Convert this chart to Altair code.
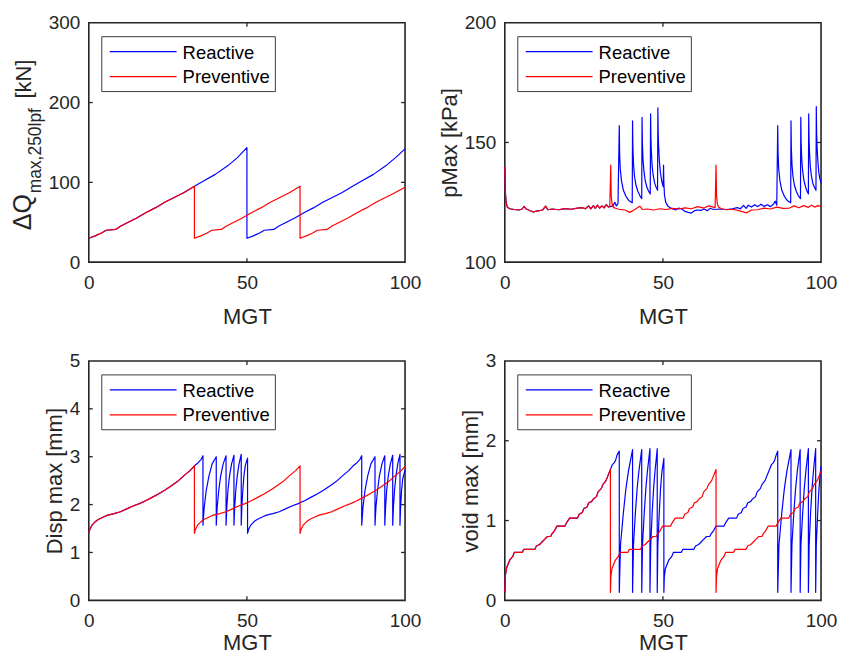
import altair as alt
import pandas as pd

SERIES = ["Reactive", "Preventive"]
COLORS = ["#0000ff", "#ff0000"]
MGT_TICKS = [0, 50, 100]

# ---------------- Panel 1: ΔQ max,250lpf [kN] ----------------
DQ_REACTIVE = [(0,30),(2,33),(4,36.5),(5.5,40),(8.5,41),(10,45),(12,49),(15,55),(18,62),(21,68),(24,75),(27,81),(30,87),(33.4,95),
               (36,101),(40,110),(44,121),(47,131),(50,143.5),
               (50,30),(52,33),(54,36.5),(55.5,40),(58.5,41),(60,45),(62,49),(65,55),(68,62),(71,68),(74,75),(77,81),(80,87),(83.4,95),
               (86,101),(90,110),(94,121),(97,131),(100,142)]
DQ_PREVENTIVE = [(0,30),(2,33),(4,36.5),(5.5,40),(8.5,41),(10,45),(12,49),(15,55),(18,62),(21,68),(24,75),(27,81),(30,87),(33.4,95),
                 (33.4,30),(35.4,33),(37.4,36.5),(38.9,40),(41.9,41),(43.4,45),(45.4,49),(48.4,55),(51.4,62),(54.4,68),(57.4,75),(60.4,81),(63.4,87),(66.8,95),
                 (66.8,30),(68.8,33),(70.8,36.5),(72.3,40),(75.3,41),(76.8,45),(78.8,49),(81.8,55),(84.8,62),(87.8,68),(90.8,75),(93.8,81),(96.8,87),(100,94)]

# ---------------- Panel 2: pMax [kPa] ----------------
PMAX_REACTIVE = [(0,140),(0.15,130),(0.4,125),(0.8,123),(1.5,122.3),(3,122),(4.5,121.8),(5.5,122.2),(6.1,123.3),(6.8,122.2),(8,121.5),(9,121),
                 (10.5,121.4),(12,121.8),(12.9,123.4),(13.6,121.9),(15,122.2),(17,121.9),(19,122.4),(21,122.1),(23,122.6),(24.5,122.8),(25.5,122.3),
                 (26.5,123.5),(27.2,122.3),(28,123.6),(28.6,122.5),(29.3,123.8),(30,122.6),(30.7,123.5),(31.4,122.7),(32.1,124),(32.8,123),(33.2,123.3),
                 (33.5,123.2),(34.2,123.5),(34.8,125),(35.3,123.5),(35.8,124.5),
                 (36.2,157),(36.3,146),(36.5,139),(36.9,134),(37.5,130),(38.3,127.5),(39.2,125.8),(40.3,124.8),
                 (40.4,159),(40.5,148),(40.7,141),(41.0,136),(41.5,132),(42.1,129.5),(42.7,127.8),(43.3,126.5),
                 (43.4,160.5),(43.5,150),(43.7,143),(44.0,138),(44.4,134),(44.9,131.5),(45.4,129.8),(46.0,128.5),
                 (46.1,162),(46.2,152),(46.35,146),(46.6,140),(46.95,136),(47.4,133),(47.85,131.3),(48.3,130),
                 (48.4,164.5),(48.5,154),(48.65,148),(48.9,142),(49.2,137.5),(49.6,134),(50.1,131.5),
                 (50.2,140.5),(50.3,133),(50.5,128),(50.9,125),(51.5,123.5),(52.2,122.8),(53,122.3),(54,121.8),(55,122.6),(56,122.2),
                 (57,121.2),(58,120.8),(59,120.5),(60,121.5),(61,121.8),(62,121.6),(63,122.2),(64,121.5),(65,122.5),(66,122),(68,122.2),
                 (70,122),(72,122.3),(73.5,122.8),(74.5,122.3),(75.5,123.7),(76.3,122.5),(77,123.8),(78,123),(79,124),(80,123.2),(81,124.2),
                 (82,123.3),(83,124),(84,123.2),(85,124.3),(85.5,125.5),(86,123.8),
                 (86.3,157),(86.4,146),(86.6,139),(87.0,134),(87.6,130),(88.4,127.5),(89.3,125.8),(90.4,124.8),
                 (90.5,159),(90.6,148),(90.8,141),(91.1,136),(91.6,132),(92.2,129.5),(92.8,127.8),(93.5,126.5),
                 (93.6,160.5),(93.7,150),(93.9,143),(94.2,138),(94.6,134),(95.1,131.5),(95.5,129.8),(96.0,128.5),
                 (96.1,162),(96.2,152),(96.35,146),(96.6,140),(96.95,136),(97.4,133),(97.9,131.3),(98.4,130),
                 (98.5,165),(98.6,154),(98.75,148),(99.0,142),(99.3,137.5),(99.6,135),(100,133)]
PMAX_PREVENTIVE = [(0,140),(0.15,130),(0.4,125),(0.8,123),(1.5,122.3),(3,122),(4.5,121.8),(5.5,122.2),(6.1,123.3),(6.8,122.2),(8,121.5),(9,121),
                   (10.5,121.4),(12,121.8),(12.9,123.4),(13.6,121.9),(15,122.2),(17,121.9),(19,122.4),(21,122.1),(23,122.6),(24.5,122.8),(25.5,122.3),
                   (26.5,123.5),(27.2,122.3),(28,123.6),(28.6,122.5),(29.3,123.8),(30,122.6),(30.7,123.5),(31.4,122.7),(32.1,124),(32.8,123),(33.2,123.3),
                   (33.5,140.5),(33.65,128),(33.9,124.5),(34.3,123),(35,122.5),(36,122.1),(38,121.8),(39.5,120.8),(41,121.9),(42.7,123.4),
                   (43.5,122),(45,122.2),(47,121.8),(49,122.3),(51,122),(53,122.5),(55,122.2),(57,122.7),(59,122.3),(61,123.2),(63,122.6),
                   (64.5,123.5),(66.5,122.8),(66.8,140.5),(66.95,128),(67.2,124.5),(67.6,123),(68.5,122.3),(70,121.9),(72,122.1),(74,121.5),
                   (76.5,120.6),(78,121.8),(80,121.9),(82,122.6),(84,122.2),(86,123),(88,122.5),(90,122.6),(91.5,123.5),(93,122.7),(94.5,123.6),
                   (96,122.9),(97,123.8),(98,123),(99,123.6),(100,123.3)]

# ---------------- Panel 3: Disp max [mm] ----------------
DISP_REACTIVE = [(0,1.4),(0.3,1.48),(1,1.57),(2,1.64),(3,1.69),(4,1.72),(5,1.75),(6,1.78),(8,1.81),(10,1.85),(12,1.91),(14,1.97),(16,2.02),
                 (18,2.08),(20,2.15),(22,2.22),(24,2.3),(26,2.39),(28,2.48),(30,2.6),(32,2.71),(33.4,2.81),(34.5,2.87),(35.5,2.94),(36.1,3.02),
                 (36.1,1.57),(36.5,1.95),(37.15,2.3),(38.0,2.6),(39.0,2.85),(40.3,3.0),
                 (40.3,1.57),(40.6,1.95),(41.1,2.3),(41.7,2.6),(42.5,2.85),(43.4,3.02),
                 (43.4,1.57),(43.65,1.95),(44.0,2.3),(44.5,2.6),(45.15,2.85),(45.9,3.03),
                 (45.9,1.57),(46.13,1.95),(46.48,2.3),(46.94,2.6),(47.5,2.85),(48.2,3.05),
                 (48.2,1.57),(48.4,1.95),(48.7,2.3),(49.05,2.6),(49.5,2.82),(50.2,2.97),
                 (50.2,1.4),(50.5,1.48),(51.2,1.57),(52.2,1.64),(53.2,1.69),(54.2,1.72),(55.2,1.75),(56.2,1.78),(58.2,1.81),(60.2,1.85),
                 (62.2,1.91),(64.2,1.97),(66.2,2.02),(68.2,2.08),(70.2,2.15),(72.2,2.22),(74.2,2.3),(76.2,2.39),(78.2,2.48),(80.2,2.6),
                 (82.2,2.71),(83.6,2.81),(84.7,2.87),(85.7,2.94),(86.3,3.02),
                 (86.3,1.57),(86.7,1.95),(87.35,2.3),(88.2,2.6),(89.2,2.85),(90.5,3.0),
                 (90.5,1.57),(90.8,1.95),(91.3,2.3),(91.9,2.6),(92.7,2.85),(93.6,3.02),
                 (93.6,1.57),(93.85,1.95),(94.2,2.3),(94.7,2.6),(95.35,2.85),(96.1,3.03),
                 (96.1,1.57),(96.33,1.95),(96.68,2.3),(97.14,2.6),(97.7,2.85),(98.4,3.05),
                 (98.4,1.57),(98.6,1.95),(98.9,2.3),(99.3,2.55),(100,2.72)]
DISP_PREVENTIVE = [(0,1.4),(0.3,1.48),(1,1.57),(2,1.64),(3,1.69),(4,1.72),(5,1.75),(6,1.78),(8,1.81),(10,1.85),(12,1.91),(14,1.97),(16,2.02),
                   (18,2.08),(20,2.15),(22,2.22),(24,2.3),(26,2.39),(28,2.48),(30,2.6),(32,2.71),(33.4,2.81),
                   (33.4,1.4),(33.7,1.48),(34.4,1.57),(35.4,1.64),(36.4,1.69),(37.4,1.72),(38.4,1.75),(39.4,1.78),(41.4,1.81),(43.4,1.85),
                   (45.4,1.91),(47.4,1.97),(49.4,2.02),(51.4,2.08),(53.4,2.15),(55.4,2.22),(57.4,2.3),(59.4,2.39),(61.4,2.48),(63.4,2.6),
                   (65.4,2.71),(66.8,2.81),
                   (66.8,1.4),(67.1,1.48),(67.8,1.57),(68.8,1.64),(69.8,1.69),(70.8,1.72),(71.8,1.75),(72.8,1.78),(74.8,1.81),(76.8,1.85),
                   (78.8,1.91),(80.8,1.97),(82.8,2.02),(84.8,2.08),(86.8,2.15),(88.8,2.22),(90.8,2.3),(92.8,2.39),(94.8,2.48),(96.8,2.6),
                   (98.8,2.71),(100,2.8)]

# ---------------- Panel 4: void max [mm] ----------------
VOID_REACTIVE = [(0,0.1),(0.15,0.3),(0.5,0.4),(1,0.45),(1.5,0.5),(2.5,0.55),(3,0.6),(5.5,0.6),(6,0.64),(9.5,0.64),(10,0.68),(11,0.7),
                 (12,0.74),(12.5,0.76),(13.5,0.8),(14.5,0.8),(15,0.84),(15.5,0.86),(16.5,0.93),(19,0.93),(19.5,0.97),(20.5,1.03),(23,1.03),
                 (23.5,1.08),(24.5,1.1),(25,1.15),(26,1.17),(26.5,1.22),(27.5,1.24),(28,1.27),(29,1.3),(29.5,1.36),(30.5,1.4),(31,1.45),
                 (32,1.5),(32.5,1.55),(33.4,1.64),(34,1.7),(34.5,1.72),(35,1.75),(35.5,1.82),(36.2,1.87),
                 (36.2,0.1),(36.6,0.7),(37.5,1.1),(38.3,1.4),(39.1,1.62),(40.4,1.89),
                 (40.4,0.1),(40.7,0.7),(41.3,1.1),(41.85,1.4),(42.4,1.62),(43.3,1.89),
                 (43.3,0.1),(43.55,0.7),(44.1,1.1),(44.6,1.4),(45.1,1.62),(45.9,1.9),
                 (45.9,0.1),(46.15,0.7),(46.6,1.1),(47.05,1.4),(47.5,1.62),(48.2,1.9),
                 (48.2,0.1),(48.4,0.7),(48.85,1.1),(49.25,1.4),(49.65,1.6),(50.3,1.78),
                 (50.3,0.1),(50.45,0.3),(50.8,0.4),(51.3,0.45),(51.8,0.5),(52.8,0.55),(53.3,0.6),(55.8,0.6),(56.3,0.64),(59.8,0.64),
                 (60.3,0.68),(61.3,0.7),(62.3,0.74),(62.8,0.76),(63.8,0.8),(64.8,0.8),(65.3,0.84),(65.8,0.86),(66.8,0.93),(69.3,0.93),
                 (69.8,0.97),(70.8,1.03),(73.3,1.03),(73.8,1.08),(74.8,1.1),(75.3,1.15),(76.3,1.17),(76.8,1.22),(77.8,1.24),(78.3,1.27),
                 (79.3,1.3),(79.8,1.36),(80.8,1.4),(81.3,1.45),(82.3,1.5),(82.8,1.55),(83.7,1.64),(84.3,1.7),(84.8,1.72),(85.3,1.75),
                 (85.8,1.82),(86.3,1.87),
                 (86.3,0.1),(86.7,0.7),(87.6,1.1),(88.4,1.4),(89.2,1.62),(90.5,1.89),
                 (90.5,0.1),(90.8,0.7),(91.4,1.1),(91.95,1.4),(92.5,1.62),(93.4,1.89),
                 (93.4,0.1),(93.65,0.7),(94.2,1.1),(94.7,1.4),(95.2,1.62),(96.0,1.9),
                 (96.0,0.1),(96.25,0.7),(96.7,1.1),(97.15,1.4),(97.6,1.62),(98.3,1.9),
                 (98.3,0.1),(98.5,0.7),(98.95,1.1),(99.35,1.4),(99.75,1.6),(100,1.68)]
VOID_PREVENTIVE = [(0,0.1),(0.15,0.3),(0.5,0.4),(1,0.45),(1.5,0.5),(2.5,0.55),(3,0.6),(5.5,0.6),(6,0.64),(9.5,0.64),(10,0.68),(11,0.7),
                   (12,0.74),(12.5,0.76),(13.5,0.8),(14.5,0.8),(15,0.84),(15.5,0.86),(16.5,0.93),(19,0.93),(19.5,0.97),(20.5,1.03),(23,1.03),
                   (23.5,1.08),(24.5,1.1),(25,1.15),(26,1.17),(26.5,1.22),(27.5,1.24),(28,1.27),(29,1.3),(29.5,1.36),(30.5,1.4),(31,1.45),
                   (32,1.5),(32.5,1.55),(33.4,1.64),
                   (33.4,0.1),(33.55,0.3),(33.9,0.4),(34.4,0.45),(34.9,0.5),(35.9,0.55),(36.4,0.6),(38.9,0.6),(39.4,0.64),(42.9,0.64),
                   (43.4,0.68),(44.4,0.7),(45.4,0.74),(45.9,0.76),(46.9,0.8),(47.9,0.8),(48.4,0.84),(48.9,0.86),(49.9,0.93),(52.4,0.93),
                   (52.9,0.97),(53.9,1.03),(56.4,1.03),(56.9,1.08),(57.9,1.1),(58.4,1.15),(59.4,1.17),(59.9,1.22),(60.9,1.24),(61.4,1.27),
                   (62.4,1.3),(62.9,1.36),(63.9,1.4),(64.4,1.45),(65.4,1.5),(65.9,1.55),(66.8,1.64),
                   (66.8,0.1),(66.95,0.3),(67.3,0.4),(67.8,0.45),(68.3,0.5),(69.3,0.55),(69.8,0.6),(72.3,0.6),(72.8,0.64),(76.3,0.64),
                   (76.8,0.68),(77.8,0.7),(78.8,0.74),(79.3,0.76),(80.3,0.8),(81.3,0.8),(81.8,0.84),(82.3,0.86),(83.3,0.93),(85.8,0.93),
                   (86.3,0.97),(87.3,1.03),(89.8,1.03),(90.3,1.08),(91.3,1.1),(91.8,1.15),(92.8,1.17),(93.3,1.22),(94.3,1.24),(94.8,1.27),
                   (95.8,1.3),(96.3,1.36),(97.3,1.4),(97.8,1.45),(98.8,1.5),(99.3,1.55),(100,1.62)]

W, H = 317, 240
FONT = "Liberation Sans"
INK = "#262626"
cscale = alt.Scale(domain=SERIES, range=COLORS)


def make_df(reactive, preventive):
    rows = []
    i = 0
    for name, pts in (("Reactive", reactive), ("Preventive", preventive)):
        for x, y in pts:
            rows.append({"x": x, "y": y, "series": name, "idx": i})
            i += 1
    return pd.DataFrame(rows)


def spacer(x1, x2, y1, y2):
    # invisible rectangle that fixes the extent of the page layout
    return alt.Chart(pd.DataFrame({"a": [0]})).mark_rect(opacity=0).encode(
        x=alt.value(x1), x2=alt.value(x2), y=alt.value(y1), y2=alt.value(y2))


def panel(reactive, preventive, ydom, yticks, ytitle, title_x, xtitle_y, extra=None):
    df = make_df(reactive, preventive)
    xenc = alt.X("x:Q", scale=alt.Scale(domain=[0, 100], nice=False, zero=False),
                 axis=alt.Axis(values=MGT_TICKS, title="MGT", titleX=W / 2, titleY=xtitle_y,
                               titleBaseline="alphabetic", titleAlign="center"))
    yaxis_kw = dict(values=yticks, titleAngle=270, titleX=title_x, titleY=H / 2,
                    titleBaseline="alphabetic", titleAlign="center")
    if ytitle:
        yaxis = alt.Axis(title=ytitle, **yaxis_kw)
    else:
        yaxis = alt.Axis(title=None, **yaxis_kw)
    yenc = alt.Y("y:Q", scale=alt.Scale(domain=ydom, nice=False, zero=False), axis=yaxis)

    lines = alt.Chart(df).mark_line(strokeWidth=1.2, strokeJoin="round").encode(
        x=xenc, y=yenc,
        color=alt.Color("series:N", scale=cscale, legend=None),
        order=alt.Order("idx:Q"),
    )
    xt = pd.DataFrame({"x": [50]})
    yt = pd.DataFrame({"y": yticks[1:-1]})
    tick_style = dict(color=INK, strokeWidth=1.3)
    xb = alt.Chart(xt).mark_rule(**tick_style).encode(x=xenc, y=alt.value(H), y2=alt.value(H - 4))
    xtop = alt.Chart(xt).mark_rule(**tick_style).encode(x=xenc, y=alt.value(0), y2=alt.value(4))
    yl = alt.Chart(yt).mark_rule(**tick_style).encode(y=yenc, x=alt.value(0), x2=alt.value(4))
    yr = alt.Chart(yt).mark_rule(**tick_style).encode(y=yenc, x=alt.value(W - 4), x2=alt.value(W))

    box = alt.Chart(pd.DataFrame({"a": [0]})).mark_rect(fill="white", stroke=INK, strokeWidth=0.9).encode(
        x=alt.value(13), x2=alt.value(187), y=alt.value(14), y2=alt.value(69))
    leg = [box]
    for i, name in enumerate(SERIES):
        d = pd.DataFrame({"series": [name]})
        leg.append(alt.Chart(d).mark_rule(strokeWidth=1.2).encode(
            x=alt.value(21), x2=alt.value(88), y=alt.value(29 + 25 * i),
            color=alt.Color("series:N", scale=cscale, legend=None)))
        leg.append(alt.Chart(d).mark_text(align="left", baseline="alphabetic", font=FONT,
                                          fontSize=18.5, color="black").encode(
            x=alt.value(94), y=alt.value(36 + 24 * i), text="series:N"))
    layers = [lines, xb, xtop, yl, yr] + leg
    if extra:
        layers += extra
    return alt.layer(*layers).properties(width=W, height=H)


# Custom y title with subscript for panel 1
def title_piece(txt, y, x, size):
    return alt.Chart(pd.DataFrame({"t": [txt]})).mark_text(
        align="left", baseline="alphabetic", angle=270, font=FONT, fontSize=size, color=INK
    ).encode(x=alt.value(x), y=alt.value(y), text="t:N")


dq_extra = [title_piece("ΔQ", 208, -58, 25),
            title_piece("max,250lpf", 171, -47.5, 17.5),
            title_piece("[kN]", 76, -58, 22),
            spacer(-80, 0, -13, 0)]

p1 = panel(DQ_REACTIVE, DQ_PREVENTIVE, [0, 300], [0, 100, 200, 300], None, -58, 61, extra=dq_extra)
p2 = panel(PMAX_REACTIVE, PMAX_PREVENTIVE, [100, 200], [100, 150, 200], "pMax [kPa]", -48.5, 61,
           extra=[spacer(W, W + 16, -13, 0)])
p3 = panel(DISP_REACTIVE, DISP_PREVENTIVE, [0, 5], [0, 1, 2, 3, 4, 5], "Disp max [mm]", -27.7, 49,
           extra=[spacer(-80, 0, H, H + 70)])
p4 = panel(VOID_REACTIVE, VOID_PREVENTIVE, [0, 3], [0, 1, 2, 3], "void max [mm]", -27.3, 49,
           extra=[spacer(W, W + 16, H, H + 70)])

chart = alt.concat(p1, p2, p3, p4, columns=2, spacing={"row": 99, "column": 100}, bounds="flush").properties(
    padding={"left": 0, "top": 0, "right": 0, "bottom": -16},
    background="white",
).configure_view(
    stroke=INK, strokeWidth=1.6
).configure_axis(
    labelFont=FONT, labelFontSize=19, labelColor=INK,
    titleFont=FONT, titleFontSize=22, titleColor=INK, titleFontWeight="normal",
    domain=False, ticks=False, tickSize=0, grid=False, labelFlush=False, labelOverlap=False,
).configure_axisX(labelPadding=11).configure_axisY(labelPadding=9)

chart.save("out.html", embed_options={"renderer": "svg", "actions": False})
